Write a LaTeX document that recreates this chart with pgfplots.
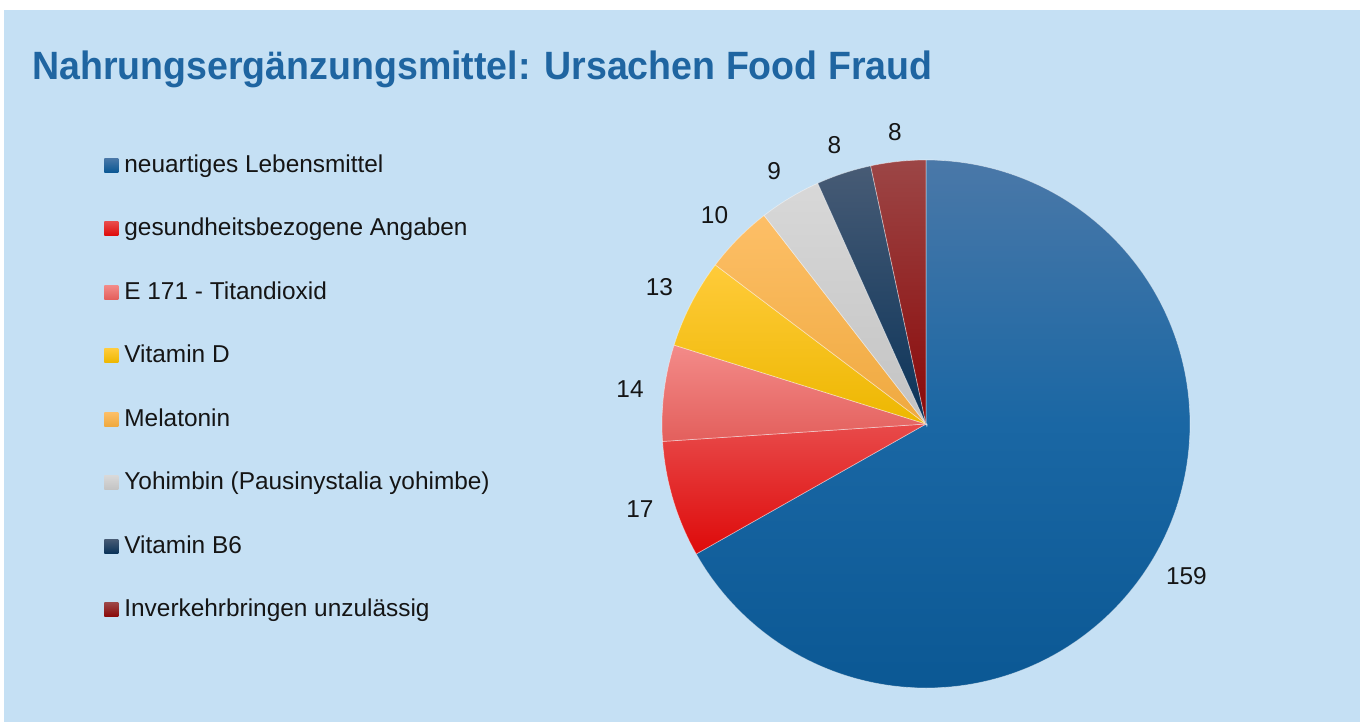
\documentclass[border=0pt]{standalone}
\usepackage{graphicx}
\usepackage{pgfplots}
\pgfplotsset{compat=1.18}
\usepackage{pgfplotstable}
\usepackage{fontspec}
\setmainfont{Liberation Sans}

\definecolor{bg}{HTML}{C5E0F4}
\definecolor{titlec}{HTML}{1F65A1}
\definecolor{legc}{HTML}{151515}
\definecolor{top0}{HTML}{4A78A8}\definecolor{mid0}{HTML}{1A67A4}\definecolor{bot0}{HTML}{0B5894}
\definecolor{top1}{HTML}{E84A4A}\definecolor{bot1}{HTML}{DE0A0A}
\definecolor{top2}{HTML}{F38B89}\definecolor{bot2}{HTML}{E35F5C}
\definecolor{top3}{HTML}{FFCB3A}\definecolor{bot3}{HTML}{EDB700}
\definecolor{top4}{HTML}{FDBF67}\definecolor{bot4}{HTML}{EFA93F}
\definecolor{top5}{HTML}{D8D8D8}\definecolor{bot5}{HTML}{C3C3C3}
\definecolor{top6}{HTML}{475B75}\definecolor{bot6}{HTML}{0A3359}
\definecolor{top7}{HTML}{9C4646}\definecolor{bot7}{HTML}{8A0808}
\colorlet{mid1}{top1!50!bot1}
\colorlet{mid2}{top2!50!bot2}
\colorlet{mid3}{top3!50!bot3}
\colorlet{mid4}{top4!50!bot4}
\colorlet{mid5}{top5!50!bot5}
\colorlet{mid6}{top6!50!bot6}
\colorlet{mid7}{top7!50!bot7}

\newcommand\labfont{\fontsize{12.2}{14}\selectfont}

\pgfplotstableread[col sep=comma]{
label,value
neuartiges Lebensmittel,159
gesundheitsbezogene Angaben,17
E 171 - Titandioxid,14
Vitamin D,13
Melatonin,10
Yohimbin (Pausinystalia yohimbe),9
Vitamin B6,8
Inverkehrbringen unzulässig,8
}\piedata

\def\pietotal{0}%
\pgfplotsforeachungrouped \i in {0,...,7}{%
  \pgfplotstablegetelem{\i}{value}\of\piedata
  \pgfmathsetmacro\pietotal{\pietotal+\pgfplotsretval}%
}%
\def\piecum{0}%
\pgfplotsforeachungrouped \i in {0,...,7}{%
  \pgfplotstablegetelem{\i}{value}\of\piedata
  \let\pieval\pgfplotsretval
  \pgfmathsetmacro\pieS{90-360*(\piecum/\pietotal)}%
  \pgfmathsetmacro\pieM{90-360*((\piecum+0.5*\pieval)/\pietotal)}%
  \pgfmathsetmacro\pieA{\pieM+180}%
  \pgfmathsetmacro\piecum{\piecum+\pieval}%
  \pgfmathsetmacro\pieE{90-360*(\piecum/\pietotal)}%
  \expandafter\xdef\csname pieS\i\endcsname{\pieS}%
  \expandafter\xdef\csname pieM\i\endcsname{\pieM}%
  \expandafter\xdef\csname pieA\i\endcsname{\pieA}%
  \expandafter\xdef\csname pieE\i\endcsname{\pieE}%
  \expandafter\xdef\csname pieV\i\endcsname{\pieval}%
  \pgfplotstablegetelem{\i}{label}\of\piedata
  \expandafter\xdef\csname pieL\i\endcsname{\pgfplotsretval}%
}%

\begin{document}
\begin{tikzpicture}
\begin{scope}[x=0.5pt,y=-0.5pt]
  \fill[white] (0,0) rectangle (1362,722);
  \fill[bg] (4,10) rectangle (1360,722);
  \node[anchor=base west, inner sep=0pt, text=titlec,
        font=\bfseries\fontsize{19.75}{22}\selectfont] at (32,80)
        {\scalebox{0.95}[1]{Nahrungsergänzungsmittel: Ursachen Food Fraud}};
\end{scope}
\begin{axis}[
  at={(463pt,-212pt)}, anchor=origin,
  x=0.5pt, y=0.5pt,
  xmin=-300, xmax=300, ymin=-296, ymax=300,
  hide axis, clip=false,
  legend cell align=left,
  legend style={at={(-0.87,0.95)}, anchor=north west, draw=none, fill=none,
    inner sep=0pt, row sep=19.75pt, column sep=0pt,
    font=\labfont, text=legc,
    nodes={inner ysep=0pt, inner xsep=3pt, text height=9pt, text depth=3pt, anchor=base west}},
]
\pgfplotsforeachungrouped \i in {0,...,7}{%
  \edef\temp{\noexpand\path[top color=top\i, bottom color=bot\i, middle color=mid\i,
     draw=white, draw opacity=0.45, line width=0.35pt]
     (axis cs:0,0) -- (axis cs:{264*cos(\csname pieS\i\endcsname)},{264*sin(\csname pieS\i\endcsname)})
     arc[start angle=\csname pieS\i\endcsname, end angle=\csname pieE\i\endcsname, radius=132pt] -- cycle;}%
  \temp
  \edef\temp{\noexpand\node[font=\noexpand\labfont, text=legc, inner sep=0pt,
       anchor=\csname pieA\i\endcsname]
     at (axis cs:{284*cos(\csname pieM\i\endcsname)},{284*sin(\csname pieM\i\endcsname)})
     {\csname pieV\i\endcsname};}%
  \temp
}
\pgfplotsinvokeforeach{0,...,7}{%
  \addlegendimage{legend image code/.code={\path[draw=none, top color=top#1, bottom color=bot#1] (0pt,0pt) rectangle (7pt,7pt);}}
  \addlegendentry{\csname pieL#1\endcsname}
}
\end{axis}
\begin{scope}[x=0.5pt,y=-0.5pt]
  \pgfresetboundingbox
  \path[use as bounding box] (0,0) rectangle (1362,722);
\end{scope}
\end{tikzpicture}
\end{document}
